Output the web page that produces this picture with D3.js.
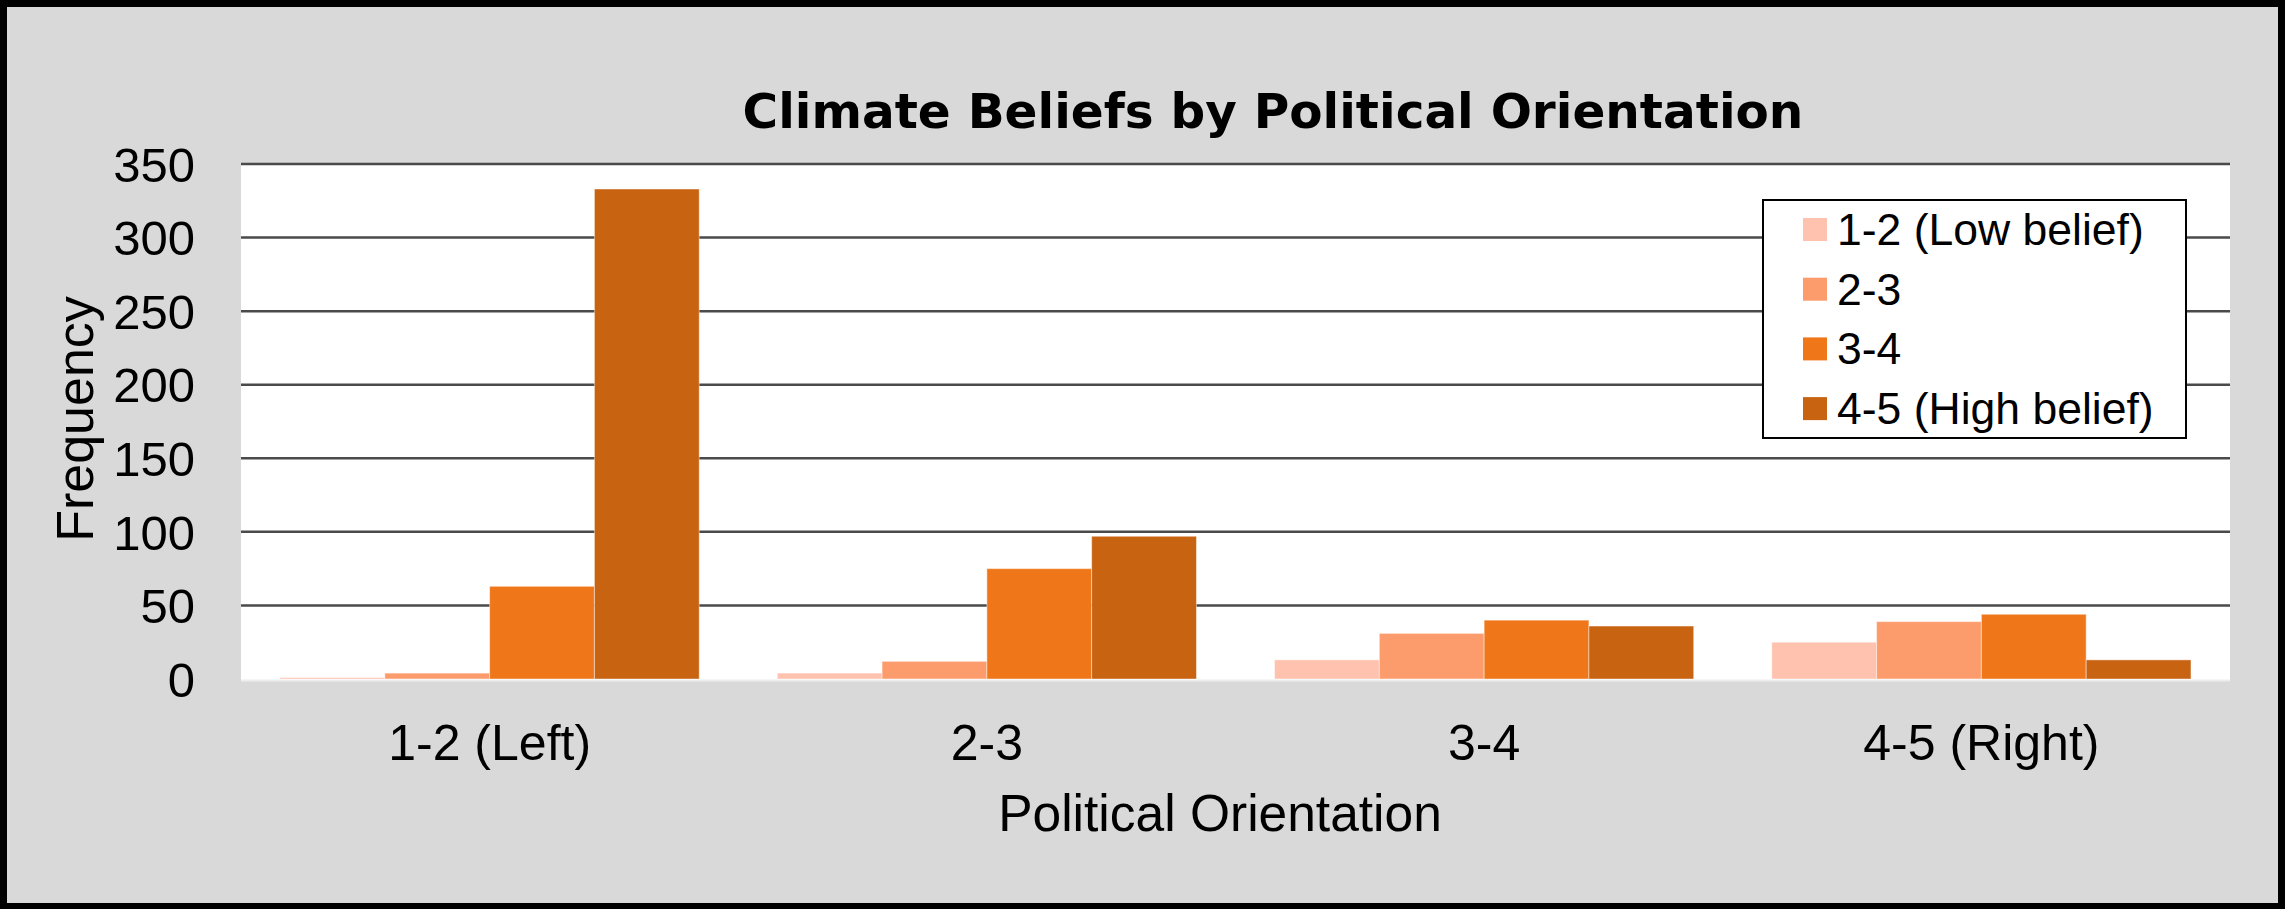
<!DOCTYPE html>
<html>
<head>
<meta charset="utf-8">
<script src="https://cdn.jsdelivr.net/npm/d3@7"></script>
<style>
  html, body { margin: 0; padding: 0; background: #000; }
  svg { display: block; }
</style>
</head>
<body>
<svg id="chart" width="2285" height="909"></svg>
<script>
// ---- data ----
const categories = ["1-2 (Left)", "2-3", "3-4", "4-5 (Right)"];
const seriesNames = ["1-2 (Low belief)", "2-3", "3-4", "4-5 (High belief)"];
const lowBelief  = [1, 4, 13, 25];
const belief23   = [4, 12, 31, 39];
const belief34   = [63, 75, 40, 44];
const highBelief = [333, 97, 36, 13];
const yTicks = [0, 50, 100, 150, 200, 250, 300, 350];
const seriesColors = ["#FFC2AE", "#FC9C6C", "#EF7719", "#C86311"];
const chartTitle = "Climate Beliefs by Political Orientation";
const xTitle = "Political Orientation";
const yTitle = "Frequency";

const seriesValues = [lowBelief, belief23, belief34, highBelief];
const table = categories.map((c, i) => ({
  category: c,
  values: seriesNames.map((s, j) => ({ series: s, idx: j, value: seriesValues[j][i] }))
}));

// ---- layout ----
const W = 2285, H = 909;
const plot = { left: 241, right: 2230, top: 164, bottom: 679 };
const fontReg = "'Liberation Sans', Arial, sans-serif";
const fontTitle = "'DejaVu Sans', 'Liberation Sans', sans-serif";

const svg = d3.select("#chart");

// frame
svg.append("rect").attr("x", 0).attr("y", 0).attr("width", W).attr("height", H).attr("fill", "#000");
svg.append("rect").attr("x", 7).attr("y", 7).attr("width", W - 14).attr("height", H - 13).attr("fill", "#D9D9D9");

// plot background
svg.append("rect")
  .attr("x", plot.left).attr("y", plot.top - 1)
  .attr("width", plot.right - plot.left).attr("height", plot.bottom - plot.top + 2)
  .attr("fill", "#FFFFFF");

const x0 = d3.scaleBand().domain(categories).range([plot.left, plot.right])
  .paddingInner(0.157).paddingOuter(0.0785);
const x1 = d3.scaleBand().domain(seriesNames).range([0, x0.bandwidth()]).padding(0);
const y = d3.scaleLinear().domain([0, 350]).range([plot.bottom, plot.top]);

// gridlines
svg.append("g").selectAll("line")
  .data(yTicks.filter(t => t > 0))
  .join("line")
  .attr("x1", plot.left).attr("x2", plot.right)
  .attr("y1", d => y(d)).attr("y2", d => y(d))
  .attr("stroke", "#4a4a4a").attr("stroke-width", 2.5);

// baseline (light)
svg.append("line")
  .attr("x1", plot.left).attr("x2", plot.right)
  .attr("y1", y(0) + 1.5).attr("y2", y(0) + 1.5)
  .attr("stroke", "#EDEDED").attr("stroke-width", 2);

// bars
const groups = svg.append("g").selectAll("g")
  .data(table).join("g")
  .attr("transform", d => `translate(${x0(d.category)},0)`);

groups.selectAll("rect")
  .data(d => d.values).join("rect")
  .attr("x", d => x1(d.series))
  .attr("y", d => y(d.value))
  .attr("width", x1.bandwidth())
  .attr("height", d => y(0) - y(d.value))
  .attr("fill", d => seriesColors[d.idx])
  .attr("stroke", "rgba(255,255,255,0.45)")
  .attr("stroke-width", 1);

// y axis labels
const yAxis = d3.axisLeft(y).tickValues(yTicks).tickSize(0).tickPadding(0);
const yg = svg.append("g").attr("transform", `translate(195,0)`).call(yAxis);
yg.select(".domain").remove();
yg.selectAll("text")
  .attr("font-family", fontReg).attr("font-size", 49).attr("fill", "#000")
  .attr("dy", "0.35em");

// x axis labels
const xAxis = d3.axisBottom(x0).tickSize(0).tickPadding(0);
const xg = svg.append("g").attr("transform", `translate(0,${plot.bottom})`).call(xAxis);
xg.select(".domain").remove();
xg.selectAll("text")
  .attr("font-family", fontReg).attr("font-size", 50).attr("fill", "#000")
  .attr("y", 81).attr("dy", 0);

// axis titles
svg.append("text")
  .attr("x", 1220).attr("y", 831)
  .attr("text-anchor", "middle")
  .attr("font-family", fontReg).attr("font-size", 51.5).attr("fill", "#000")
  .text(xTitle);

svg.append("text")
  .attr("transform", `translate(93,419) rotate(-90)`)
  .attr("text-anchor", "middle")
  .attr("font-family", fontReg).attr("font-size", 52).attr("fill", "#000")
  .text(yTitle);

// chart title
svg.append("text")
  .attr("x", 1273).attr("y", 128)
  .attr("text-anchor", "middle")
  .attr("font-family", fontTitle).attr("font-weight", "bold").attr("font-size", 48.5).attr("fill", "#000")
  .text(chartTitle);

// legend
const legend = svg.append("g");
legend.append("rect")
  .attr("x", 1763).attr("y", 200).attr("width", 423).attr("height", 238)
  .attr("fill", "#FFFFFF").attr("stroke", "#000").attr("stroke-width", 2);
const items = legend.selectAll("g.item").data(seriesNames).join("g")
  .attr("class", "item")
  .attr("transform", (d, i) => `translate(1803,${218 + i * 59.7})`);
items.append("rect")
  .attr("width", 24).attr("height", 23)
  .attr("fill", (d, i) => seriesColors[i]);
items.append("text")
  .attr("x", 34).attr("y", 27)
  .attr("font-family", fontReg).attr("font-size", 44.5).attr("fill", "#000")
  .text(d => d);
</script>
</body>
</html>
